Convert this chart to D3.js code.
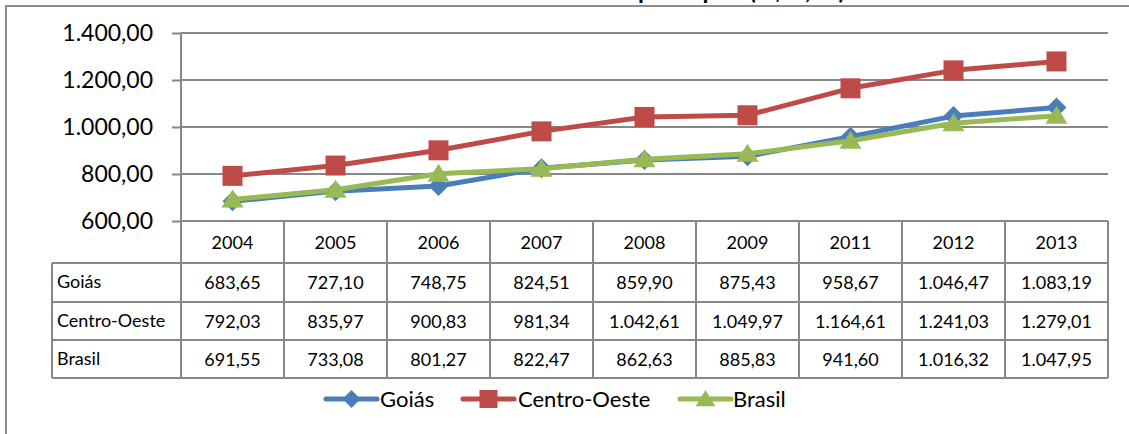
<!DOCTYPE html>
<html><head><meta charset="utf-8">
<script src="https://cdn.jsdelivr.net/npm/d3@7"></script>
<style>
body{margin:0;background:#fff;}
svg{display:block;font-family:Lato,"Open Sans",sans-serif;}
</style></head>
<body>
<svg id="chart" width="1129" height="434"></svg>
<script>
const years = ["2004","2005","2006","2007","2008","2009","2011","2012","2013"];
const seriesNames = ["Goiás","Centro-Oeste","Brasil"];
const goias = [683.65,727.10,748.75,824.51,859.90,875.43,958.67,1046.47,1083.19];
const centroOeste = [792.03,835.97,900.83,981.34,1042.61,1049.97,1164.61,1241.03,1279.01];
const brasil = [691.55,733.08,801.27,822.47,862.63,885.83,941.60,1016.32,1047.95];
const yTicks = [600,800,1000,1200,1400];
const titleText = "Renda domiciliar per capita (R$ 1,00)";

(function(){
const series = [
  {name: seriesNames[0], values: goias, color: "#4A7EBB", marker: "diamond"},
  {name: seriesNames[1], values: centroOeste, color: "#BE4B48", marker: "square"},
  {name: seriesNames[2], values: brasil, color: "#98B954", marker: "triangle"}
];

const loc = d3.formatLocale({decimal: ",", thousands: ".", grouping: [3], currency: ["R$", ""]});
const fmt = loc.format(",.2f");

const svg = d3.select("#chart");
const gray = "#878787";

// outer chart border
svg.append("rect").attr("x", 6).attr("y", 6).attr("width", 1140).attr("height", 440)
  .attr("fill", "none").attr("stroke", "#8c8c8c").attr("stroke-width", 2);

// title (clipped at top, as in the reference)
svg.append("text").attr("x", 845).attr("y", -1).attr("text-anchor", "end")
  .attr("font-weight", "bold").attr("font-size", 24).attr("fill", "#000").text(titleText);

const pLeft = 181, pRight = 1108, pTop = 33, pBottom = 221;
const x = d3.scaleBand().domain(years).range([pLeft, pRight]).padding(0);
const y = d3.scaleLinear().domain([600, 1400]).range([pBottom, pTop]);

// y axis with gridlines
const yAxis = d3.axisLeft(y).tickValues(yTicks).tickSize(9).tickPadding(19).tickFormat(fmt);
const ga = svg.append("g").attr("transform", `translate(${pLeft},0)`).call(yAxis);
ga.select(".domain").remove();
ga.selectAll(".tick line").attr("stroke", gray).attr("stroke-width", 2);
ga.selectAll(".tick text").attr("font-size", 23).attr("fill", "#000").attr("font-family", "Lato");

svg.append("g").selectAll("line").data(yTicks).join("line")
  .attr("x1", pLeft).attr("x2", pRight).attr("y1", d => y(d)).attr("y2", d => y(d))
  .attr("stroke", gray).attr("stroke-width", 2);

// table
const rowTops = [221, 263, 302, 340, 378];
const labelLeft = 52;
const tg = svg.append("g");
rowTops.slice(1).forEach(r => {
  tg.append("line").attr("x1", labelLeft).attr("x2", pRight).attr("y1", r).attr("y2", r)
    .attr("stroke", gray).attr("stroke-width", 2);
});
tg.selectAll("line.col").data(years).join("line").attr("class", "col")
  .attr("x1", d => x(d) + x.bandwidth()).attr("x2", d => x(d) + x.bandwidth())
  .attr("y1", rowTops[0]).attr("y2", rowTops[4]).attr("stroke", gray).attr("stroke-width", 2);
tg.append("line").attr("x1", pLeft).attr("x2", pLeft).attr("y1", pTop).attr("y2", rowTops[4])
  .attr("stroke", gray).attr("stroke-width", 2);
tg.append("line").attr("x1", labelLeft).attr("x2", labelLeft).attr("y1", rowTops[1]).attr("y2", rowTops[4])
  .attr("stroke", gray).attr("stroke-width", 2);

tg.selectAll("text.yr").data(years).join("text").attr("class", "yr")
  .attr("x", d => x(d) + x.bandwidth() / 2).attr("y", 249).attr("text-anchor", "middle")
  .attr("font-size", 18).attr("fill", "#000").text(d => d);

series.forEach((s, i) => {
  const yb = rowTops[i + 1] + 26;
  tg.append("text").attr("x", 57).attr("y", yb - 1).attr("font-size", 18).attr("fill", "#000").text(s.name);
  tg.selectAll(null).data(s.values).join("text")
    .attr("x", (d, j) => x(years[j]) + x.bandwidth() / 2).attr("y", yb)
    .attr("text-anchor", "middle").attr("font-size", 18).attr("fill", "#000").text(d => fmt(d));
});

// lines and markers
const line = d3.line().x((d, j) => x(years[j]) + x.bandwidth() / 2).y(d => y(d));
function markerPath(type) {
  if (type === "diamond") return "M0,-10L10,0L0,10L-10,0Z";
  if (type === "square") return "M-10,-10L10,-10L10,10L-10,10Z";
  return "M0,-10L11,8L-11,8Z";
}
series.forEach(s => {
  const g = svg.append("g");
  g.append("path").datum(s.values).attr("d", line).attr("fill", "none")
    .attr("stroke", s.color).attr("stroke-width", 5).attr("stroke-linejoin", "round");
  g.selectAll("path.m").data(s.values).join("path").attr("class", "m")
    .attr("transform", (d, j) => `translate(${x(years[j]) + x.bandwidth() / 2},${y(d)})`)
    .attr("d", markerPath(s.marker)).attr("fill", s.color);
});

// legend
const legend = [
  {s: series[0], lx: 326, tx: 380},
  {s: series[1], lx: 463, tx: 518},
  {s: series[2], lx: 680, tx: 733}
];
const lg = svg.append("g");
legend.forEach(L => {
  const ly = 399;
  lg.append("line").attr("x1", L.lx).attr("x2", L.lx + 51).attr("y1", ly).attr("y2", ly)
    .attr("stroke", L.s.color).attr("stroke-width", 5).attr("stroke-linecap", "round");
  lg.append("path").attr("transform", `translate(${L.lx + 25.5},${ly}) scale(0.9)`)
    .attr("d", markerPath(L.s.marker)).attr("fill", L.s.color);
  lg.append("text").attr("x", L.tx).attr("y", ly + 8).attr("font-size", 22).attr("fill", "#000").text(L.s.name);
});
})();
</script>
</body></html>
